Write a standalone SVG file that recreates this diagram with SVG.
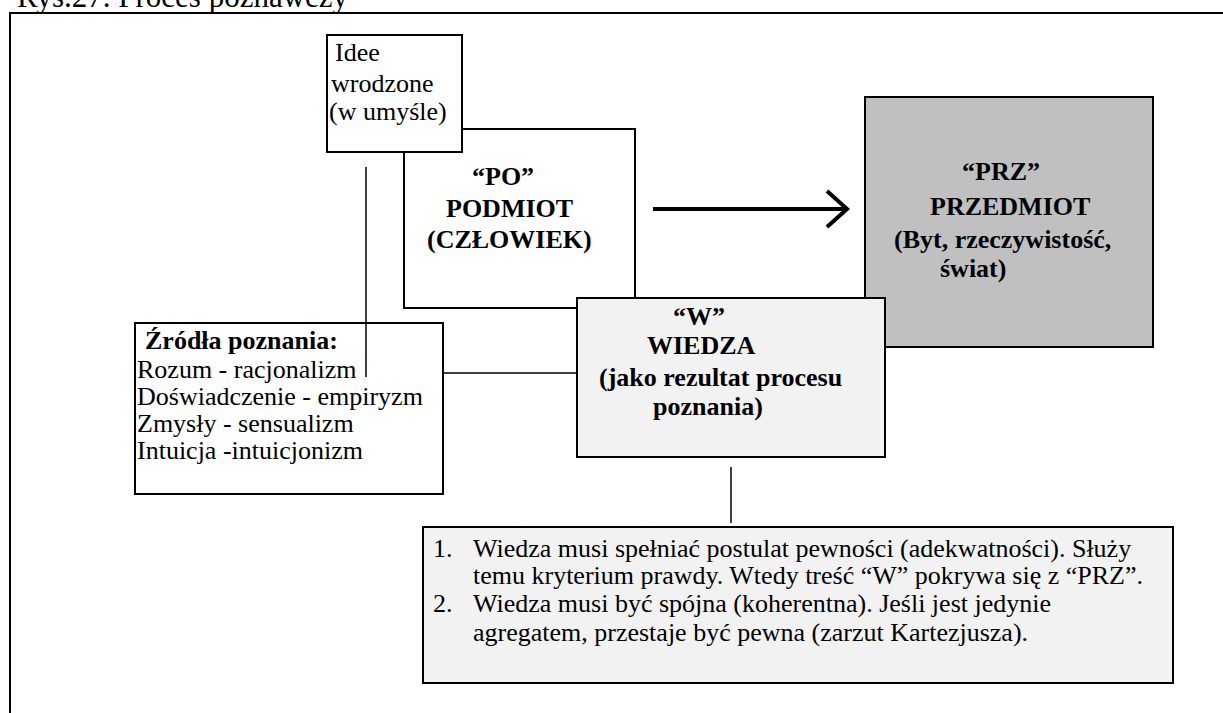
<svg xmlns="http://www.w3.org/2000/svg" width="1223" height="713" viewBox="0 0 1223 713">
<style>
text{font-family:"Liberation Serif","Times New Roman",serif;font-size:26px;fill:#000}
.b{font-weight:bold}
.box{stroke:#000;stroke-width:2}
.ln{stroke:#000;stroke-width:1.5;fill:none}
</style>
<rect width="1223" height="713" fill="#fff"/>
<text x="17" y="7" style="font-size:31px">Rys.27. Proces poznawczy</text>
<path d="M10 713 V13 H1223" fill="none" stroke="#000" stroke-width="2"/>
<g id="podmiot">
<rect class="box" x="404" y="129" width="231" height="179" fill="#fff"/>
<text class="b" x="472" y="185">“PO”</text>
<text class="b" x="446" y="217">PODMIOT</text>
<text class="b" x="427" y="248">(CZŁOWIEK)</text>
</g>
<g id="idee">
<rect class="box" x="327" y="35" width="135" height="117" fill="#fff"/>
<text x="335" y="61">Idee</text>
<text x="331" y="92">wrodzone</text>
<text x="329" y="120">(w umyśle)</text>
</g>
<g id="przedmiot">
<rect class="box" x="865" y="97" width="288" height="250" fill="#c0c0c0"/>
<text class="b" x="962" y="180">“PRZ”</text>
<text class="b" x="930" y="215">PRZEDMIOT</text>
<text class="b" x="894" y="248">(Byt, rzeczywistość,</text>
<text class="b" x="940" y="277">świat)</text>
</g>
<g id="zrodla">
<rect class="box" x="135" y="323" width="308" height="171" fill="#fff"/>
<text class="b" x="145" y="349">Źródła poznania:</text>
<text x="137" y="378">Rozum - racjonalizm</text>
<text x="137" y="405">Doświadczenie - empiryzm</text>
<text x="137" y="432">Zmysły - sensualizm</text>
<text x="137" y="459">Intuicja -intuicjonizm</text>
</g>
<g id="wiedza">
<rect class="box" x="577" y="298" width="308" height="159" fill="#f2f2f2"/>
<text class="b" x="673" y="325">“W”</text>
<text class="b" x="647" y="354">WIEDZA</text>
<text class="b" x="599" y="386">(jako rezultat procesu</text>
<text class="b" x="653" y="415">poznania)</text>
</g>
<g id="postulaty">
<rect class="box" x="423" y="527" width="750" height="156" fill="#f2f2f2"/>
<text x="433" y="557">1.</text>
<text x="473" y="557">Wiedza musi spełniać postulat pewności (adekwatności). Służy</text>
<text x="473" y="584">temu kryterium prawdy. Wtedy treść “W” pokrywa się z “PRZ”.</text>
<text x="433" y="612">2.</text>
<text x="473" y="612">Wiedza musi być spójna (koherentna). Jeśli jest jedynie</text>
<text x="473" y="641">agregatem, przestaje być pewna (zarzut Kartezjusza).</text>
</g>
<g id="connectors">
<line class="ln" x1="366" y1="167" x2="366" y2="377"/>
<line class="ln" x1="443" y1="373" x2="577" y2="373"/>
<line class="ln" x1="731" y1="467" x2="731" y2="523"/>
<line x1="653" y1="209" x2="846" y2="209" stroke="#000" stroke-width="4"/>
<path d="M827 191 L847 209 L827 227" fill="none" stroke="#000" stroke-width="4"/>
</g>
</svg>
